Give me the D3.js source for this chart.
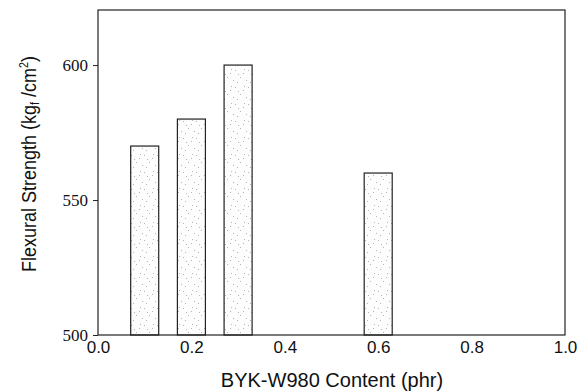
<!DOCTYPE html>
<html><head><meta charset="utf-8">
<script src="https://cdn.jsdelivr.net/npm/d3@7"></script>
<style>body{margin:0;background:#fff}</style>
</head><body>
<svg id="c" width="585" height="392"></svg>
<script>
const contents = [0.1, 0.2, 0.3, 0.6];
const strengths = [570, 580, 600, 560];
const barWidth = 0.06;
const xTicks = [0.0, 0.2, 0.4, 0.6, 0.8, 1.0];
const yTicks = [500, 550, 600];

const svg = d3.select("#c");
const L = 98, R = 565, T = 10, B = 335;
const x = d3.scaleLinear().domain([0, 1]).range([L, R]);
const y = d3.scaleLinear().domain([500, 620.4]).range([B, T]);

const defs = svg.append("defs");
const pat = defs.append("pattern").attr("id","stip").attr("patternUnits","userSpaceOnUse")
  .attr("width",13).attr("height",17);
pat.append("rect").attr("width",13).attr("height",17).attr("fill","#fdfdfd");
[[1,2],[6,9],[10,1],[3,14],[9,5],[12,12],[4,6]].forEach(([a,b])=>pat.append("rect").attr("x",a).attr("y",b)
  .attr("width",1).attr("height",1).attr("fill","#b5b5b5"));

svg.selectAll("rect.bar").data(contents).enter().append("rect").attr("class","bar")
  .attr("x", d => x(d - barWidth/2))
  .attr("width", d => x(d + barWidth/2) - x(d - barWidth/2))
  .attr("y", (d,i) => y(strengths[i]))
  .attr("height", (d,i) => y(500) - y(strengths[i]))
  .attr("fill","url(#stip)").attr("stroke","#222").attr("stroke-width",1.2);

// frame
svg.append("rect").attr("x",L).attr("y",T).attr("width",R-L).attr("height",B-T)
  .attr("fill","none").attr("stroke","#222").attr("stroke-width",1.2);

const xa = svg.append("g").attr("transform",`translate(0,${B})`)
  .call(d3.axisBottom(x).tickValues(xTicks).tickFormat(d3.format(".1f")).tickSize(0).tickPadding(6));
xa.select(".domain").remove();
xa.selectAll("text").attr("font-family","Liberation Sans, Arial, sans-serif").attr("font-size","17px").attr("fill","#111");

const ya = svg.append("g").attr("transform",`translate(${L},0)`)
  .call(d3.axisLeft(y).tickValues(yTicks).tickSize(5).tickPadding(5));
ya.select(".domain").remove();
ya.selectAll("line").attr("stroke","#222");
ya.selectAll("text").attr("font-family","Liberation Serif, Times New Roman, serif").attr("font-size","17px").attr("fill","#111");

svg.append("text").attr("x", 332).attr("y", 387).attr("text-anchor","middle")
  .attr("font-family","Liberation Sans, Arial, sans-serif").attr("font-size","20px").attr("fill","#111")
  .text("BYK-W980 Content (phr)");

const yl = svg.append("text").attr("transform","translate(36,164) rotate(-90) scale(0.9,1)").attr("text-anchor","middle")
  .attr("font-family","Liberation Sans, Arial, sans-serif").attr("font-size","20px").attr("fill","#111");
yl.append("tspan").text("Flexural Strength (kg");
yl.append("tspan").attr("font-size","12px").attr("dy","3").text("f");
yl.append("tspan").attr("dy","-3").text(" /cm");
yl.append("tspan").attr("font-size","12px").attr("dy","-8").text("2");
yl.append("tspan").attr("dy","8").text(")");
</script>
</body></html>
